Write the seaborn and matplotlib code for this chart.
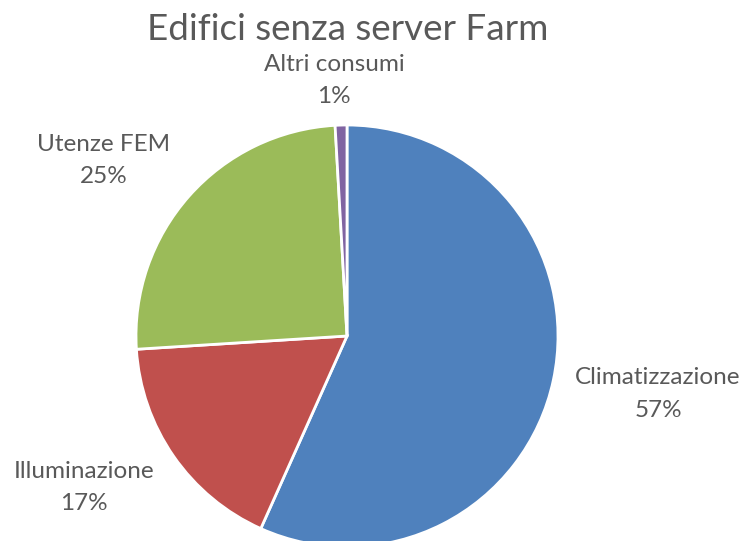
import matplotlib
matplotlib.use("Agg")
import matplotlib.pyplot as plt
import seaborn as sns

# Energy consumption shares for buildings without the server farm
categories = ["Climatizzazione", "Illuminazione", "Utenze FEM", "Altri consumi"]
shares = [56.7, 17.3, 25.1, 0.9]
percent_labels = ["57%", "17%", "25%", "1%"]
colors = ["#4F81BD", "#C0504D", "#9BBB59", "#8064A2"]
title = "Edifici senza server Farm"

sns.set_theme(style="white")
plt.rcParams["font.family"] = ["Lato", "DejaVu Sans"]

W, H, DPI = 743, 541, 100
fig = plt.figure(figsize=(W / DPI, H / DPI), dpi=DPI)

# Pie of radius 1 centred at (0, 0); axes spans the whole figure
cx, cy, r = 347, 336, 211
ax = fig.add_axes([0, 0, 1, 1])

ax.pie(
    shares,
    colors=colors,
    startangle=90,
    counterclock=False,
    radius=1.0,
    wedgeprops=dict(edgecolor="white", linewidth=2),
)
ax.set_aspect("auto")
ax.set_xlim(-cx / r, (W - cx) / r)
ax.set_ylim(-(H - cy) / r, cy / r)
ax.axis("off")

# Category labels placed around the pie
label_pos = [(1.474, -0.275), (-1.246, -0.718), (-1.152, 0.834), (-0.062, 1.213)]
text_color = "#595959"
for name, pct, (x, y) in zip(categories, percent_labels, label_pos):
    ax.text(x, y, f"{name}\n{pct}", ha="center", va="center",
            fontsize=17.5, color=text_color, linespacing=1.65)

fig.text(348 / W, 1 - 30 / H, title, ha="center", va="center",
         fontsize=26.5, color=text_color)

fig.savefig("out.png", dpi=DPI, facecolor="white")
